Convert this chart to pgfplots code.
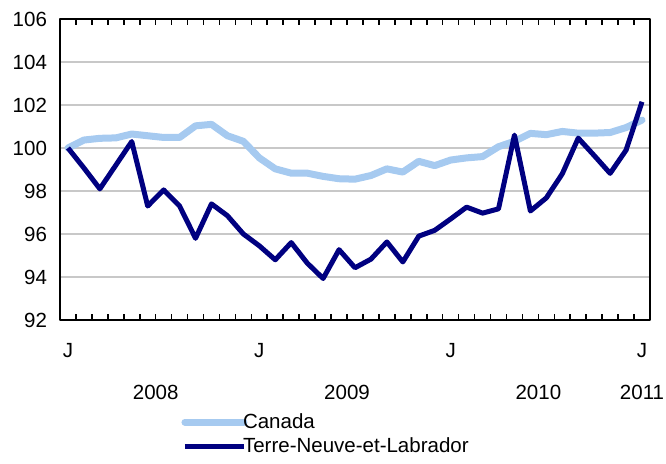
\documentclass[border=0pt]{standalone}
\usepackage{fontspec}
\setmainfont{Liberation Sans}
\usepackage{pgfplots}
\pgfplotsset{compat=1.18}
\definecolor{canada}{RGB}{166,202,240}
\definecolor{tnl}{RGB}{0,0,128}
\definecolor{gridgray}{RGB}{200,200,200}
\newcommand{\chartfont}{\fontsize{10.25}{12}\selectfont}
\begin{document}
\begin{tikzpicture}
\path[use as bounding box] (-30pt,-72pt) rectangle (303pt,160pt);
\begin{axis}[
    at={(0,0)}, anchor=south west,
    scale only axis,
    width=295pt, height=150.5pt,
    xmin=-0.5, xmax=36.5,
    ymin=92, ymax=106,
    ytick={92,94,...,106},
    xtick={0,12,24,36},
    xticklabels={J,J,J,J},
    minor xtick={0.5,1.5,...,35.5},
    major tick length=0pt,
    minor tick length=3pt,
    tick style={black, line width=0.8pt},
    extra x ticks={5.5,17.5,29.5,36},
    extra x tick labels={2008,2009,2010,2011},
    extra x tick style={major tick length=0pt, xticklabel style={yshift=-20.5pt}},
    xticklabel style={anchor=center, yshift=-15.5pt},
    yticklabel style={anchor=east, xshift=-3pt},
    ticklabel style={font=\chartfont},
    /pgf/number format/assume math mode=true,
    ymajorgrids,
    grid style={gridgray, line width=1pt},
    axis line style={line width=1.2pt},
    legend style={at={(0.195,-0.293)}, anchor=north west, draw=none, fill=none,
        font=\chartfont, row sep=2.5pt, column sep=0pt,
        nodes={inner sep=0.3pt},
        /tikz/every odd column/.append style={column sep=-2.5pt}},
    legend cell align=left,
    legend image code/.code={\draw[#1] (0pt,0pt) -- (29.5pt,0pt);},
    line join=round,
]
% Canada
\addplot[canada, line width=3.5pt, line cap=round] coordinates {
(0,100.00) (1,100.37) (2,100.45) (3,100.47) (4,100.65) (5,100.57) (6,100.49)
(7,100.49) (8,101.03) (9,101.10) (10,100.57) (11,100.31) (12,99.54) (13,99.03)
(14,98.83) (15,98.83) (16,98.68) (17,98.57) (18,98.55) (19,98.72) (20,99.03)
(21,98.88) (22,99.38) (23,99.18) (24,99.44) (25,99.54) (26,99.60) (27,100.06)
(28,100.31) (29,100.68) (30,100.62) (31,100.77) (32,100.69) (33,100.69)
(34,100.72) (35,100.95) (36,101.30)};
% Terre-Neuve-et-Labrador
\addplot[tnl, line width=2.5pt] coordinates {
(0,100.00) (1,99.07) (2,98.10) (3,99.20) (4,100.30) (5,97.30) (6,98.05)
(7,97.30) (8,95.80) (9,97.40) (10,96.85) (11,96.00) (12,95.45) (13,94.80)
(14,95.60) (15,94.65) (16,93.93) (17,95.27) (18,94.43) (19,94.83) (20,95.63)
(21,94.70) (22,95.90) (23,96.17) (24,96.70) (25,97.25) (26,96.97) (27,97.17)
(28,100.60) (29,97.07) (30,97.68) (31,98.80) (32,100.46) (33,99.65)
(34,98.82) (35,99.90) (36,102.15)};
\legend{Canada,Terre-Neuve-et-Labrador}
\end{axis}
\end{tikzpicture}
\end{document}
